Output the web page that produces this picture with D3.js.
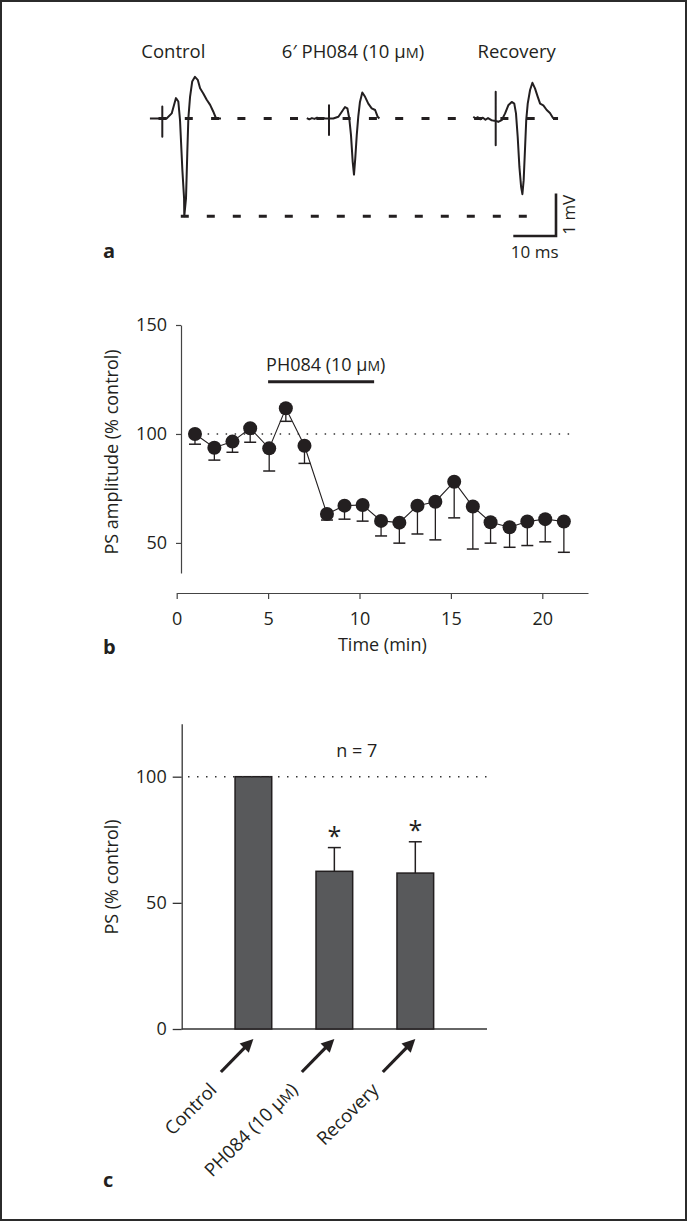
<!DOCTYPE html>
<html>
<head>
<meta charset="utf-8">
<script src="https://cdnjs.cloudflare.com/ajax/libs/d3/7.8.5/d3.min.js"></script>
<style>
body{margin:0;background:#fff}
svg text{font-family:"Open Sans",sans-serif;fill:#231f20}
</style>
</head>
<body>
<svg width="687" height="1221"></svg>
<script>
// panel a - field potential traces, [ms after stimulus, mV from baseline]
var traceNames = ["Control", "6′ PH084 (10 µM)", "Recovery"]
var controlTrace = [[-2.9,0],[0,0],[0,0.28],[0,-0.43],[0,0],[1.0,0],[2.2,0.12],[3.2,0.48],[3.75,0.40],[4.15,-0.04],[4.7,-1.21],[5.1,-1.88],[5.15,-2.30],[5.55,-1.88],[5.85,-0.82],[6.1,0],[6.5,0.51],[7.0,0.87],[7.65,0.98],[8.3,0.91],[8.85,0.71],[9.6,0.59],[10.4,0.44],[11.2,0.32],[11.95,0.16],[12.6,0],[13.75,0]]
var ph084Trace = [[-5.2,0.01],[-4.6,-0.02],[-4.0,0.01],[-3.4,-0.01],[-2.8,0.02],[-2.2,-0.01],[-1.5,0.01],[-0.8,0],[0,0],[0,0.31],[0,-0.39],[0,0],[1.0,0],[2.2,0.04],[3.0,0.16],[3.75,0.27],[4.3,0.24],[4.75,0],[5.15,-0.39],[5.55,-1.02],[5.85,-1.32],[6.15,-0.94],[6.5,-0.39],[6.85,0.04],[7.25,0.39],[7.8,0.61],[8.45,0.51],[9.2,0.35],[10.0,0.24],[10.8,0.20],[11.4,0.04],[11.8,0]]
var recoveryTrace = [[-5.25,0.04],[-4.7,0],[-4.2,0.03],[-3.6,-0.02],[-3.0,0.02],[-2.4,-0.03],[-1.8,0.01],[-1.0,-0.04],[-0.5,-0.05],[0,-0.05],[0,0.63],[0,-0.63],[0,-0.05],[0.6,-0.08],[1.4,-0.04],[2.2,0.12],[2.95,0.31],[3.75,0.39],[4.35,0.35],[4.75,0.12],[5.15,-0.43],[5.55,-1.14],[5.95,-1.61],[6.25,-1.78],[6.55,-1.45],[6.85,-0.75],[7.15,-0.04],[7.5,0.35],[8.05,0.67],[8.6,0.84],[9.2,0.71],[9.85,0.51],[10.4,0.35],[11.15,0.31],[11.95,0.20],[12.7,0.13],[13.5,0]]

// panel b - time course
var timeMin = [1.0,2.06,3.05,4.02,5.06,5.97,6.99,8.22,9.18,10.17,11.18,12.18,13.17,14.15,15.18,16.2,17.17,18.21,19.18,20.16,21.18]
var psAmp = [100,93.7,96.5,102.6,93.4,111.8,94.6,63.3,67.1,67.4,60.1,59.3,67.1,68.9,78.1,66.7,59.5,57.2,59.8,60.9,59.8]
var psErr = [4.7,5.7,4.9,6.4,10.4,6.0,8.1,2.8,6.2,7.4,6.9,9.4,13,17.5,16.6,19.5,9.6,9.2,11,10.4,14.1]
var drugOn = [5, 10.8]
var timeTicks = [0,5,10,15,20]
var ampTicks = [50,100,150]

// panel c - summary
var groups = ["Control", "PH084 (10 µM)", "Recovery"]
var groupMean = [100, 62.5, 61.8]
var groupErr = [0, 9.4, 12.4]
var groupSig = [false, true, true]
var psTicks = [0,50,100]

var ink = "#231f20"
var svg = d3.select("svg")

svg.append("rect").attr("x",1).attr("y",1).attr("width",685).attr("height",1219)
	.attr("fill","none").attr("stroke","#2b2b2b").attr("stroke-width",2)

// text with small-caps M after µ
function addLabel(sel, str){
	var parts = str.split("µM")
	sel.append("tspan").text(parts[0])
	if(parts.length>1){
		sel.append("tspan").text("µ")
		sel.append("tspan").text("M").style("font-size","0.78em")
		sel.append("tspan").text(parts[1])
	}
	return sel
}

// ---------- a ----------
var tx = d3.scaleLinear().domain([0,10]).range([0,42.7])
var vy = d3.scaleLinear().domain([0,1]).range([0,-42.5])
var stimX = [162.3, 329, 495.7]
var baseY = 118.5
var traces = [controlTrace, ph084Trace, recoveryTrace]
var line = d3.line().x(d => tx(d[0])).y(d => vy(d[1]))

traces.forEach((tr,i) => {
	svg.append("path")
		.attr("transform","translate(" + stimX[i] + "," + baseY + ")")
		.attr("d", line(tr))
		.attr("fill","none").attr("stroke",ink).attr("stroke-width",2).attr("stroke-linejoin","round")
})

var headOff = [11, 24, 21]
traceNames.forEach((n,i) => {
	addLabel(svg.append("text")
		.attr("x", stimX[i] + headOff[i]).attr("y", 58)
		.attr("text-anchor","middle").style("font-size","18.5px"), n)
})

var cMin = d3.least(controlTrace, d => d[1])
svg.append("line")
	.attr("x1",158.5).attr("x2", stimX[2] + tx(14.6))
	.attr("y1", baseY).attr("y2", baseY)
	.attr("stroke",ink).attr("stroke-width",2.8).attr("stroke-dasharray","8,18.3")
svg.append("line")
	.attr("x1", stimX[0] + tx(cMin[0]) - 3.5).attr("x2", stimX[2] + tx(7.4))
	.attr("y1", baseY + vy(cMin[1])).attr("y2", baseY + vy(cMin[1]))
	.attr("stroke",ink).attr("stroke-width",2.8).attr("stroke-dasharray","8,18")

// scale bar 10 ms / 1 mV
var sbX = 556, sbY = 236
svg.append("path")
	.attr("d","M" + (sbX - tx(10)) + "," + sbY + "H" + sbX + "V" + (sbY + vy(1)))
	.attr("fill","none").attr("stroke",ink).attr("stroke-width",2.6)
svg.append("text").attr("x", sbX - tx(5)).attr("y",258).attr("text-anchor","middle")
	.style("font-size","17px").text("10 ms")
svg.append("text").attr("transform","translate(" + (sbX + 19) + "," + (sbY + vy(0.5)) + ") rotate(-90)")
	.attr("text-anchor","middle").style("font-size","17px").text("1 mV")

svg.append("text").attr("x",103).attr("y",258).style("font-size","20px").style("font-weight","bold").text("a")

// ---------- b ----------
var xb = d3.scaleLinear().domain([0,22.5]).range([176.7,588])
var yb = d3.scaleLinear().domain([36.2,150]).range([573,325])

var axB = svg.append("g").attr("transform","translate(0,593)")
	.call(d3.axisBottom(xb).tickValues(timeTicks).tickSize(6).tickPadding(13).tickSizeOuter(0))
var ayB = svg.append("g").attr("transform","translate(181,0)")
	.call(d3.axisLeft(yb).tickValues(ampTicks).tickSize(5).tickPadding(9).tickSizeOuter(0))
;[axB, ayB].forEach(a => {
	a.selectAll("path,line").attr("stroke","#444").attr("stroke-width",1.2)
	a.selectAll("text").style("font-size","18px").style("font-family","'Open Sans',sans-serif").attr("fill",ink)
})

svg.append("line").attr("x1",xb(1.2)).attr("x2",xb(21.6)).attr("y1",yb(100)).attr("y2",yb(100))
	.attr("stroke","#333").attr("stroke-width",1.5).attr("stroke-dasharray","1.5,7.5")

svg.append("line").attr("x1",xb(drugOn[0])).attr("x2",xb(drugOn[1])).attr("y1",yb(124)).attr("y2",yb(124))
	.attr("stroke",ink).attr("stroke-width",3)
addLabel(svg.append("text").attr("x",xb(drugOn[0]) - 2).attr("y",yb(128.7)).style("font-size","18px"), "PH084 (10 µM)")

var pts = timeMin.map((t,i) => ({t: t, v: psAmp[i], e: psErr[i]}))
var gb = svg.append("g")
gb.selectAll("line.err").data(pts).enter().append("line").attr("class","err")
	.attr("x1",d => xb(d.t)).attr("x2",d => xb(d.t))
	.attr("y1",d => yb(d.v)).attr("y2",d => yb(d.v - d.e))
	.attr("stroke",ink).attr("stroke-width",1.3)
gb.selectAll("line.cap").data(pts).enter().append("line").attr("class","cap")
	.attr("x1",d => xb(d.t) - 6).attr("x2",d => xb(d.t) + 6)
	.attr("y1",d => yb(d.v - d.e)).attr("y2",d => yb(d.v - d.e))
	.attr("stroke",ink).attr("stroke-width",1.5)
gb.append("path").attr("d", d3.line().x(d => xb(d.t)).y(d => yb(d.v))(pts))
	.attr("fill","none").attr("stroke",ink).attr("stroke-width",1.1)
gb.selectAll("circle").data(pts).enter().append("circle")
	.attr("cx",d => xb(d.t)).attr("cy",d => yb(d.v)).attr("r",7).attr("fill",ink)

svg.append("text").attr("x",(xb(0)+xb(22.5))/2).attr("y",651).attr("text-anchor","middle")
	.style("font-size","18px").text("Time (min)")
svg.append("text").attr("transform","translate(118,452) rotate(-90)").attr("text-anchor","middle")
	.style("font-size","18px").text("PS amplitude (% control)")
svg.append("text").attr("x",103).attr("y",654).style("font-size","20px").style("font-weight","bold").text("b")

// ---------- c ----------
var yc = d3.scaleLinear().domain([0,121]).range([1029,723.7])
var xc = d3.scaleBand().domain(groups).range([181.7,487]).paddingInner(0.547).paddingOuter(0.659)

var ayC = svg.append("g").attr("transform","translate(181.7,0)")
	.call(d3.axisLeft(yc).tickValues(psTicks).tickSize(9).tickPadding(6).tickSizeOuter(0))
ayC.selectAll("path,line").attr("stroke","#333").attr("stroke-width",1.3)
ayC.selectAll("text").style("font-size","18px").style("font-family","'Open Sans',sans-serif").attr("fill",ink)
svg.append("line").attr("x1",181.7).attr("x2",487).attr("y1",yc(0)).attr("y2",yc(0))
	.attr("stroke","#333").attr("stroke-width",1.3)

var bars = groups.map((g,i) => ({g: g, v: groupMean[i], e: groupErr[i], s: groupSig[i]}))
var gc = svg.append("g")
gc.selectAll("line.err").data(bars.filter(d => d.e > 0)).enter().append("line").attr("class","err")
	.attr("x1",d => xc(d.g) + xc.bandwidth()/2).attr("x2",d => xc(d.g) + xc.bandwidth()/2)
	.attr("y1",d => yc(d.v)).attr("y2",d => yc(d.v + d.e))
	.attr("stroke",ink).attr("stroke-width",1.5)
gc.selectAll("line.cap").data(bars.filter(d => d.e > 0)).enter().append("line").attr("class","cap")
	.attr("x1",d => xc(d.g) + xc.bandwidth()/2 - 6.5).attr("x2",d => xc(d.g) + xc.bandwidth()/2 + 6.5)
	.attr("y1",d => yc(d.v + d.e)).attr("y2",d => yc(d.v + d.e))
	.attr("stroke",ink).attr("stroke-width",1.5)
gc.selectAll("rect").data(bars).enter().append("rect")
	.attr("x",d => xc(d.g)).attr("width",xc.bandwidth())
	.attr("y",d => yc(d.v)).attr("height",d => yc(0) - yc(d.v))
	.attr("fill","#58595b").attr("stroke",ink).attr("stroke-width",1.5)
gc.selectAll("text.sig").data(bars.filter(d => d.s)).enter().append("text").attr("class","sig")
	.attr("x",d => xc(d.g) + xc.bandwidth()/2).attr("y",d => yc(d.v + d.e) - 3)
	.attr("text-anchor","middle").style("font-size","25px").text("*")

svg.append("line").attr("x1",188).attr("x2",487).attr("y1",yc(100)).attr("y2",yc(100))
	.attr("stroke","#333").attr("stroke-width",1.5).attr("stroke-dasharray","1.5,7.5")
svg.append("text").attr("x",356.7).attr("y",757).attr("text-anchor","middle").style("font-size","18px").text("n = 7")

// arrows + rotated category labels
bars.forEach(d => {
	var cx = xc(d.g) + xc.bandwidth()/2
	var tip = [cx, yc(0) + 10]
	var tail = [cx - 32.5, yc(0) + 43]
	var h = 13, w = 6.5, u = Math.SQRT1_2
	var bx = tip[0] - h*u, by = tip[1] + h*u
	svg.append("line").attr("x1",tail[0]).attr("y1",tail[1]).attr("x2",bx + 1).attr("y2",by - 1)
		.attr("stroke",ink).attr("stroke-width",3.2)
	svg.append("path")
		.attr("d","M" + tip[0] + "," + tip[1] + "L" + (bx - w*u) + "," + (by - w*u) + "L" + (bx + w*u) + "," + (by + w*u) + "Z")
		.attr("fill",ink)
	addLabel(svg.append("text")
		.attr("transform","translate(" + (tail[0] - 3) + "," + (tail[1] + 19) + ") rotate(-45)")
		.attr("text-anchor","end").style("font-size","18.5px"), d.g)
})

svg.append("text").attr("transform","translate(118,877) rotate(-90)").attr("text-anchor","middle")
	.style("font-size","18px").text("PS (% control)")
svg.append("text").attr("x",103).attr("y",1187).style("font-size","20px").style("font-weight","bold").text("c")
</script>
</body>
</html>
